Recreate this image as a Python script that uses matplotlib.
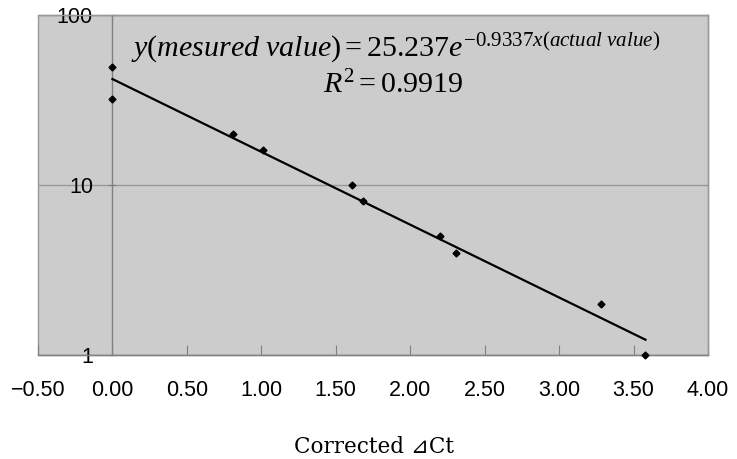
import matplotlib
matplotlib.use("Agg")
import matplotlib.pyplot as plt
from matplotlib.ticker import FixedLocator, NullLocator, FixedFormatter

# ---- data ----
point_x = [0.00, 0.00, 0.81, 1.01, 1.61, 1.68, 2.20, 2.31, 3.28, 3.58]
point_y = [49.5, 32.0, 20.0, 16.0, 10.0, 8.0, 5.0, 4.0, 2.0, 1.0]
trend_x = [0.00, 3.58]
trend_y = [42.0, 1.23]
x_ticks = [-0.5, 0.0, 0.5, 1.0, 1.5, 2.0, 2.5, 3.0, 3.5, 4.0]
x_tick_labels = ["\u22120.50", "0.00", "0.50", "1.00", "1.50", "2.00", "2.50", "3.00", "3.50", "4.00"]
y_ticks = [1, 10, 100]
y_tick_labels = ["1", "10", "100"]
equation_text = r"$y(\mathit{mesured\ value}) = 25.237e^{-0.9337x(\mathit{actual\ value})}$"
r2_text = r"$R^2 = 0.9919$"
x_label = "Corrected \u22bfCt"

plt.rcParams['mathtext.fontset'] = 'custom'
plt.rcParams['mathtext.rm'] = 'Liberation Serif'
plt.rcParams['mathtext.it'] = 'Liberation Serif:italic'
plt.rcParams['mathtext.bf'] = 'Liberation Serif:bold'

fig = plt.figure(figsize=(7.37, 4.59), dpi=100)
ax = fig.add_axes([38/737, 1-355/459, (708-38)/737, (355-15)/459])

ax.set_facecolor('#CCCCCC')
ax.patch.set_edgecolor('#999999')
ax.patch.set_linewidth(1.0)

ax.set_yscale('log')
ax.set_xlim(-0.5, 4.0)
ax.set_ylim(1, 100)

ax.yaxis.set_major_locator(FixedLocator(y_ticks))
ax.yaxis.set_minor_locator(NullLocator())
ax.yaxis.set_major_formatter(FixedFormatter(y_tick_labels))
ax.xaxis.set_major_locator(FixedLocator(x_ticks))
ax.xaxis.set_major_formatter(FixedFormatter(x_tick_labels))
ax.grid(True, axis='y', color='#999999', linewidth=1.0)
ax.set_axisbelow(True)

for s in ['top', 'right']:
    ax.spines[s].set_color('#999999')
    ax.spines[s].set_linewidth(1.0)
ax.spines['left'].set_position(('data', 0))
ax.spines['left'].set_color('#808080')
ax.spines['left'].set_linewidth(1.0)
ax.spines['bottom'].set_color('#808080')
ax.spines['bottom'].set_linewidth(1.0)

ax.tick_params(axis='x', direction='in', length=7, color='#808080', pad=18,
               labelsize=15.5, labelfontfamily='Liberation Sans', labelcolor='black')
ax.tick_params(axis='y', direction='inout', length=6, color='#808080', pad=11,
               labelsize=15.5, labelfontfamily='Liberation Sans', labelcolor='black')

ax.plot(trend_x, trend_y, color='black', linewidth=1.6, zorder=3)
ax.plot(point_x, point_y, linestyle='none', marker='D', markersize=3.5,
        color='black', zorder=4, clip_on=False)

fig.text(396/737, 1-57/459, equation_text, fontsize=21.6, ha='center', va='baseline')
fig.text(393/737, 1-93/459, r2_text, fontsize=21.6, ha='center', va='baseline')

fig.text(374/737, 1-447/459, x_label, fontsize=15.5, ha='center', va='center',
         family=['DejaVu Serif', 'DejaVu Sans', 'Noto Sans CJK JP'])

fig.savefig('out.png', dpi=100)
